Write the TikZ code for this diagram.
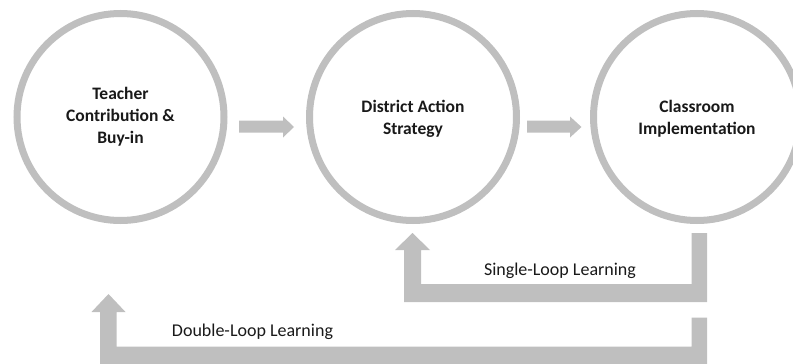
\documentclass[tikz,border=0pt]{standalone}
\usepackage{fontspec}
\setmainfont{Carlito}
\definecolor{loopgray}{RGB}{191,191,191}
\tikzset{
  stage/.style={circle, draw=loopgray, line width=7pt, fill=white, minimum size=207pt, inner sep=0pt},
  stagetext/.style={font=\bfseries\fontsize{17.5}{22}\selectfont, align=center, text=black!90},
  looptext/.style={font=\fontsize{18}{20}\selectfont, text=black!90},
  blockarrow/.style={fill=loopgray, draw=none}
}
\begin{document}
\begin{tikzpicture}[x=1pt, y=-1pt]
\useasboundingbox (0,0) rectangle (793,364);
\node[stage] (c1) at (120.5,117) {};
\node[stage] (c2) at (413,117) {};
\node[stage] (c3) at (697,117) {};
\node[stagetext] (t1) at (120.5,117) {Teacher\\Contribution \&\\Buy-in};
\node[stagetext] (t2) at (413,118.5) {District Action\\Strategy};
\node[stagetext] (t3) at (697,118.5) {Classroom\\Implementation};
% forward arrows
\fill[blockarrow] (239,120.7) -- (283,120.7) -- (283,116.5) -- (294,127) -- (283,137.5) -- (283,132.7) -- (239,132.7) -- cycle;
\fill[blockarrow] (527,120.7) -- (570,120.7) -- (570,116.5) -- (581.5,127) -- (570,137.5) -- (570,132.7) -- (527,132.7) -- cycle;
% single loop
\fill[blockarrow] (691.5,233) -- (707,233) -- (707,302) -- (404,302) -- (404,250) -- (395,250) -- (412.5,233) -- (430,250) -- (421,250) -- (421,284) -- (691.5,284) -- cycle;
% double loop
\fill[blockarrow] (691.5,317.5) -- (707,317.5) -- (707,366) -- (100,366) -- (100,312) -- (91.5,312) -- (108.5,294) -- (125.5,312) -- (116.5,312) -- (116.5,346.7) -- (691.5,346.7) -- cycle;
\node[looptext] (s) at (560,271) {Single-Loop Learning};
\node[looptext] (d) at (252.5,332) {Double-Loop Learning};
\end{tikzpicture}
\end{document}
